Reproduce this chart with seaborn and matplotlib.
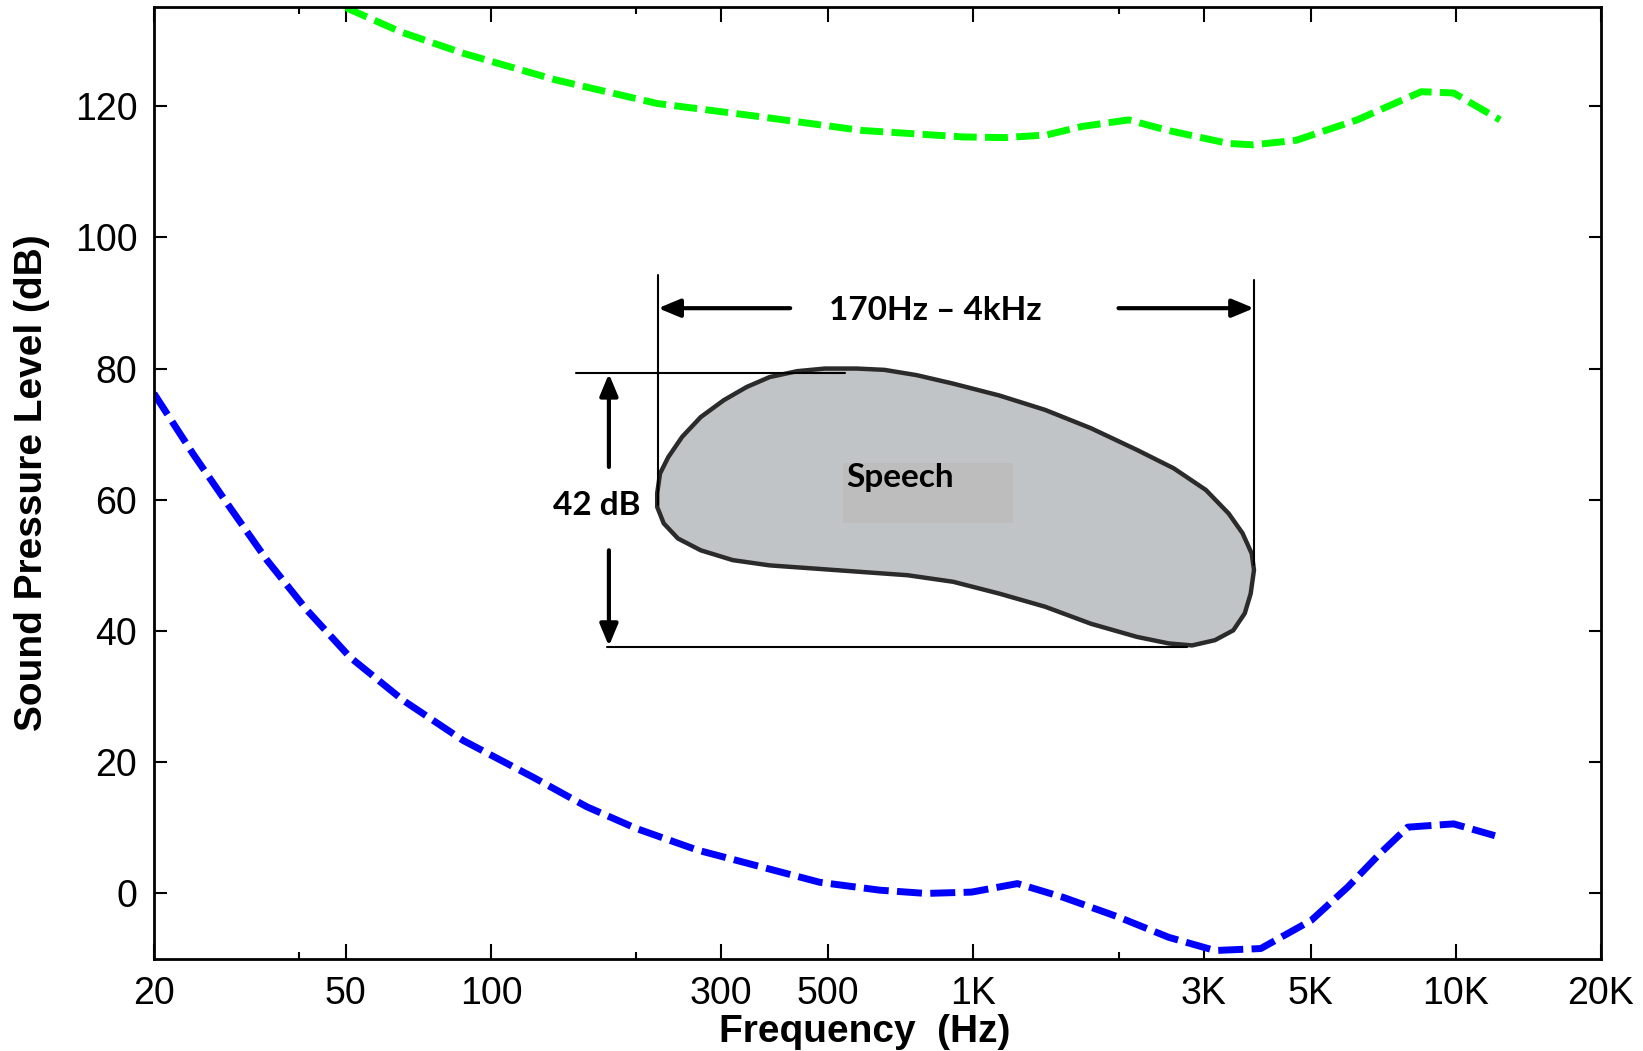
import matplotlib
matplotlib.use("Agg")
import matplotlib.pyplot as plt
import pandas as pd
import seaborn as sns
from matplotlib.ticker import NullFormatter, NullLocator

# Threshold of hearing (blue) and threshold of pain (green)
blue_freq = [20, 24.1, 28.7, 34.3, 41.5, 51.0, 65.8, 87.6, 122.3, 158, 200, 268, 480, 639,
             796, 991, 1234, 1536, 1998, 2543, 3168, 3943, 5018, 5978, 6970, 7952, 9899,
             12058]
blue_db = [76.2, 67.0, 58.9, 50.8, 43.2, 36.0, 29.4, 23.3, 17.7, 13.2, 9.9, 6.6, 1.7, 0.5,
           0.0, 0.2, 1.5, -0.6, -3.6, -6.7, -8.7, -8.4, -4.1, 1.0, 6.1, 10.1, 10.6, 8.8]

green_freq = [50, 65, 88, 136, 221, 360, 585, 953, 1158, 1417, 1680, 2097, 2530, 3381,
              3809, 4673, 6245, 8488, 9899, 12355]
green_db = [135.0, 131.3, 128.0, 124.0, 120.4, 118.4, 116.3, 115.3, 115.2, 115.6, 116.9,
            117.9, 116.3, 114.3, 114.1, 114.8, 117.9, 122.2, 122.0, 117.9]

# Speech region outline
speech_freq = [221, 224, 233, 249, 272, 304, 339, 378, 431, 492, 573, 654, 762, 908, 1131,
               1408, 1753, 2183, 2601, 3033, 3383, 3614, 3776, 3817, 3757, 3653, 3458,
               3168, 2840, 2543, 2183, 1753, 1408, 1131, 908, 730, 586, 471, 378, 317,
               272, 244, 228, 221]
speech_db = [61.0, 64.0, 66.5, 69.6, 72.6, 75.2, 77.2, 78.7, 79.6, 80.0, 80.0, 79.8, 79.0,
             77.7, 75.9, 73.7, 70.9, 67.6, 64.8, 61.5, 57.9, 54.9, 51.8, 49.3, 45.7, 42.7,
             40.1, 38.6, 37.8, 38.1, 39.1, 41.1, 43.7, 45.7, 47.5, 48.5, 49.0, 49.5, 50.0,
             50.8, 52.3, 54.1, 56.4, 58.9]
label_box_freq = [537, 1208, 1208, 537]
label_box_db = [56.4, 56.4, 65.6, 65.6]

tick_freq = [20, 50, 100, 300, 500, 1000, 3000, 5000, 10000, 20000]
tick_labels = ["20", "50", "100", "300", "500", "1K", "3K", "5K", "10K", "20K"]
minor_freq = [40, 200, 2000]
db_ticks = [0, 20, 40, 60, 80, 100, 120]

sns.set_style("ticks", {"axes.edgecolor": "black", "text.color": "black",
                        "axes.labelcolor": "black", "xtick.color": "black",
                        "ytick.color": "black"})
plt.rcParams["font.family"] = ["Liberation Sans", "DejaVu Sans"]
note_font = ["Lato", "DejaVu Sans"]

fig = plt.figure(figsize=(16.43, 10.51), dpi=100)
ax = fig.add_axes([0.0937, 0.0875, 0.8807, 0.9058])
ax.set_xscale("log")

blue_df = pd.DataFrame({"freq": blue_freq, "spl": blue_db})
green_df = pd.DataFrame({"freq": green_freq, "spl": green_db})
sns.lineplot(data=blue_df, x="freq", y="spl", ax=ax, color="#0000ff", lw=5,
             linestyle=(0, (3.6, 1.2)), estimator=None, sort=False)
sns.lineplot(data=green_df, x="freq", y="spl", ax=ax, color="#00ff00", lw=5,
             linestyle=(0, (3.3, 1.2)), estimator=None, sort=False)

# speech banana
ax.fill(speech_freq, speech_db, facecolor="#c1c4c7", edgecolor="#2b2b2b", lw=3.2,
        joinstyle="round", zorder=3)
ax.fill(label_box_freq, label_box_db, facecolor="#bdbdbd", edgecolor="none", zorder=3)
ax.text(545, 62.0, "Speech", ha="left", va="baseline", family=note_font,
        weight="bold", fontsize=24, color="black", zorder=5)

# bracket lines
ax.plot([222, 222], [94.2, 59.2], color="black", lw=1.5, zorder=4)
ax.plot([3817, 3817], [93.5, 50.0], color="black", lw=1.5, zorder=4)
ax.plot([150, 543], [79.3, 79.3], color="black", lw=1.5, zorder=4)
ax.plot([174, 2777], [37.6, 37.6], color="black", lw=1.5, zorder=4)

arrow = dict(arrowstyle="-|>,head_length=0.6,head_width=0.25", color="black", lw=3,
             mutation_scale=22, shrinkA=0, shrinkB=0)
ax.annotate("", xy=(222, 89.2), xytext=(417, 89.2), arrowprops=arrow, zorder=5)
ax.annotate("", xy=(3817, 89.2), xytext=(1999, 89.2), arrowprops=arrow, zorder=5)
ax.annotate("", xy=(175.5, 79.2), xytext=(175.5, 65.0), arrowprops=arrow, zorder=5)
ax.annotate("", xy=(175.5, 37.7), xytext=(175.5, 52.3), arrowprops=arrow, zorder=5)

ax.text(835, 87.4, "170Hz \u2013 4kHz", ha="center", va="baseline", family=note_font,
        weight="bold", fontsize=24, color="black")
ax.text(166, 57.7, "42 dB", ha="center", va="baseline", family=note_font,
        weight="bold", fontsize=24, color="black")

ax.set_xlim(20, 20000)
ax.set_ylim(-10, 135.1)
ax.set_xticks(tick_freq, tick_labels)
ax.set_xticks(minor_freq, minor=True)
ax.xaxis.set_minor_formatter(NullFormatter())
ax.set_yticks(db_ticks)
ax.yaxis.set_minor_locator(NullLocator())

ax.tick_params(axis="both", which="both", direction="in", top=True, right=True,
               labelsize=27, width=1.5, color="black", labelcolor="black")
ax.tick_params(axis="x", which="major", length=11, pad=12)
ax.tick_params(axis="x", which="minor", length=5)
ax.tick_params(axis="y", which="major", length=9, pad=12)
for side in ax.spines.values():
    side.set_linewidth(2)
    side.set_color("black")

ax.set_xlabel("Frequency  (Hz)", fontsize=28, weight="bold", labelpad=2, color="black")
ax.xaxis.label.set_x(0.491)
ax.set_ylabel("Sound Pressure Level (dB)", fontsize=28, weight="bold", labelpad=18,
              color="black")

fig.savefig("out.png", dpi=100)
